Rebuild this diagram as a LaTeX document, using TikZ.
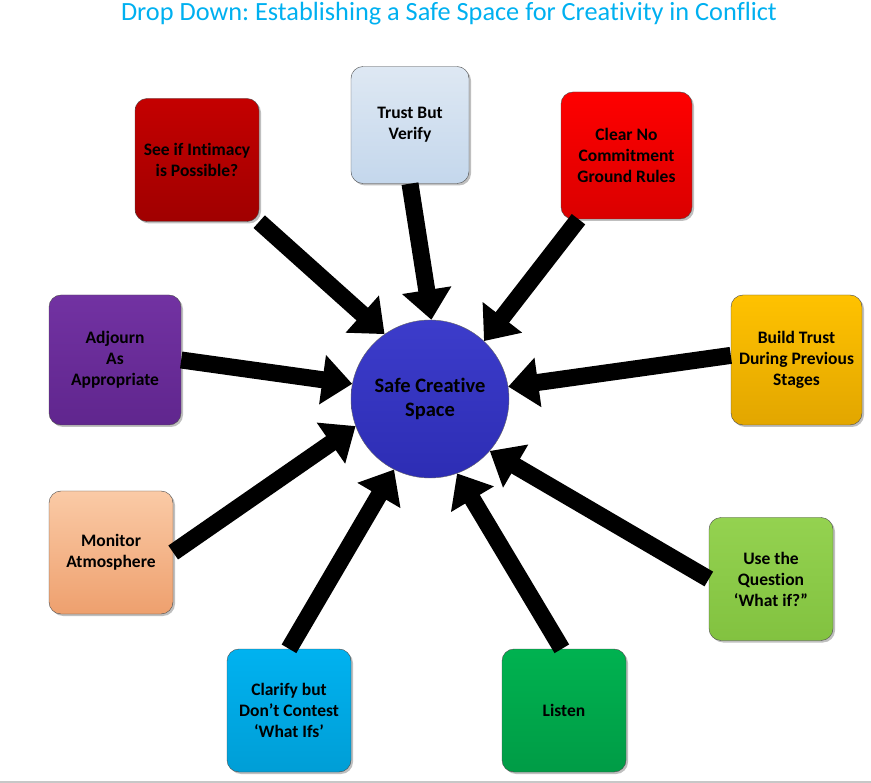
\documentclass[tikz,border=0pt]{standalone}
\usepackage{fontspec}
\setmainfont{Carlito}[Ligatures=NoCommon]
\usetikzlibrary{arrows.meta,shadows}
\frenchspacing

\definecolor{titleblue}{HTML}{00B0F0}
\definecolor{hubblue}{HTML}{3232C8}

\tikzset{
  box/.style={draw=black!70, thin, rounded corners=12pt, minimum width=124pt, minimum height=123pt,
    align=center, font=\fontsize{17.5}{21}\selectfont\bfseries,
    drop shadow={shadow xshift=2pt, shadow yshift=-2pt, opacity=0.25, fill=black}},
  bigarrow/.style={line width=17pt, -{Triangle[width=48pt,length=30pt]}},
}

\begin{document}
\begin{tikzpicture}[x=1pt,y=-1pt]
\useasboundingbox (0,0) rectangle (871,783);

%Titre
\node[text=titleblue, font=\fontsize{26.3}{30}\selectfont] (title) at (449,14) {Drop Down: Establishing a Safe Space for Creativity in Conflict};

%Centre
\node[circle, draw=black!60, thin, minimum size=158pt, top color=hubblue!95!white, bottom color=hubblue!90!black,
  align=center, font=\fontsize{20.5}{24}\selectfont\bfseries] (hub) at (430,399) {Safe Creative\\Space};

%Boites
\node[box, top color={rgb,255:red,196;green,0;blue,0}, bottom color={rgb,255:red,160;green,0;blue,0}] (intimacy) at (197,160) {See if Intimacy\\is Possible?};
\node[box, minimum width=118pt, minimum height=117pt, top color={rgb,255:red,222;green,232;blue,243}, bottom color={rgb,255:red,196;green,215;blue,236}] (trust) at (410,125) {Trust But\\Verify};
\node[box, minimum width=131pt, minimum height=127pt, top color={rgb,255:red,255;green,0;blue,0}, bottom color={rgb,255:red,218;green,0;blue,0}] (rules) at (626.5,155.5) {Clear No\\Commitment\\Ground Rules};
\node[box, minimum width=131pt, minimum height=130pt, top color={rgb,255:red,255;green,194;blue,0}, bottom color={rgb,255:red,226;green,166;blue,0}] (build) at (796.5,360) {Build Trust\\During Previous\\Stages};
\node[box, top color={rgb,255:red,148;green,210;blue,80}, bottom color={rgb,255:red,130;green,194;blue,64}] (whatif) at (771,579) {Use the\\Question\\‘What if?”};
\node[box, top color={rgb,255:red,0;green,178;blue,80}, bottom color={rgb,255:red,0;green,156;blue,70}] (listen) at (564,710.5) {Listen};
\node[box, top color={rgb,255:red,0;green,178;blue,240}, bottom color={rgb,255:red,0;green,158;blue,214}] (clarify) at (289,710.5) {Clarify but\\Don’t Contest\\‘What Ifs’};
\node[box, top color={rgb,255:red,250;green,202;blue,166}, bottom color={rgb,255:red,238;green,160;blue,110}] (monitor) at (111,552.5) {Monitor\\Atmosphere};
\node[box, minimum width=132pt, minimum height=130pt, top color={rgb,255:red,114;green,50;blue,162}, bottom color={rgb,255:red,96;green,38;blue,142}] (adjourn) at (115,360) {Adjourn\\As\\Appropriate};

%Fleches
\draw[bigarrow] (intimacy.south east) -- (hub.125);
\draw[bigarrow] (trust.south) -- (hub.89);
\draw[bigarrow] (rules.-127) -- (hub.47);
\draw[bigarrow] (build.176) -- (hub.9);
\draw[bigarrow] (whatif.west) -- (hub.-41);
\draw[bigarrow] (listen.92) -- (hub.-70);
\draw[bigarrow] (clarify.north) -- (hub.-117);
\draw[bigarrow] (monitor.east) -- (hub.-160);
\draw[bigarrow] (adjourn.east) -- (hub.169);

%Bord
\draw[black!22, line width=2pt] (0,782) -- (871,782);
\end{tikzpicture}
\end{document}
